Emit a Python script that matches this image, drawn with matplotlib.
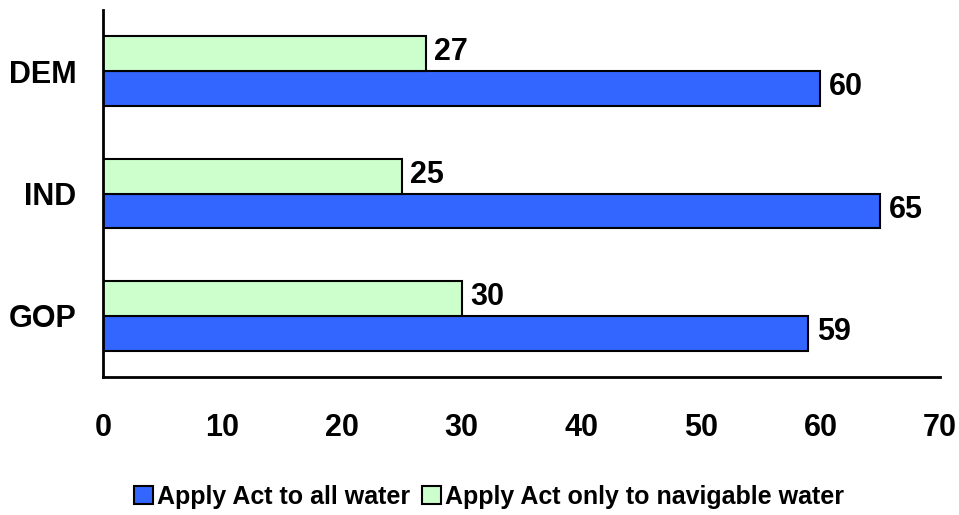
import matplotlib.pyplot as plt
import numpy as np

# Data
groups = ["GOP", "IND", "DEM"]
all_water = [59, 65, 60]
navigable_only = [30, 25, 27]
series_names = ["Apply Act to all water", "Apply Act only to navigable water"]
xticks = [0, 10, 20, 30, 40, 50, 60, 70]

plt.rcParams['font.family'] = ['Liberation Sans', 'DejaVu Sans']
plt.rcParams['font.weight'] = 'bold'

fig = plt.figure(figsize=(9.59, 5.15), dpi=100)
ax = fig.add_axes([103 / 959, 138 / 515, 837 / 959, 367 / 515])

y = np.arange(len(groups))
h = 0.286
blue_bars = ax.barh(y - h / 2, all_water, height=h, color='#3366FF',
                    edgecolor='black', linewidth=1.5, label=series_names[0])
green_bars = ax.barh(y + h / 2, navigable_only, height=h, color='#CCFFCC',
                     edgecolor='black', linewidth=1.5, label=series_names[1])

for bars in (blue_bars, green_bars):
    for b in bars:
        ax.annotate(f"{int(b.get_width())}", (b.get_width(), b.get_y() + b.get_height() / 2),
                    xytext=(6, 1), textcoords='offset points', va='center', ha='left',
                    fontsize=22, fontweight='bold')

ax.set_xlim(0, 70)
ax.set_ylim(-0.5, 2.5)
ax.set_xticks(xticks)
ax.set_yticks(y)
ax.set_yticklabels(groups)
ax.tick_params(axis='both', length=0, labelsize=22)
ax.tick_params(axis='x', pad=26)
ax.tick_params(axis='y', pad=19)
for lab in ax.get_xticklabels() + ax.get_yticklabels():
    lab.set_fontweight('bold')

ax.spines['top'].set_visible(False)
ax.spines['right'].set_visible(False)
ax.spines['left'].set_linewidth(2)
ax.spines['bottom'].set_linewidth(2)

fig.legend(handles=[blue_bars, green_bars], loc='center', bbox_to_anchor=(489 / 959, 1 - 497 / 515),
           ncol=2, frameon=False, handlelength=0.75, handleheight=0.75,
           handletextpad=0.15, columnspacing=0.5,
           prop={'weight': 'bold', 'size': 18})

fig.savefig("out.png", dpi=100)
